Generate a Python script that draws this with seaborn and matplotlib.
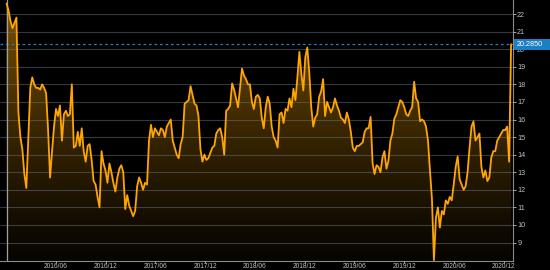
import numpy as np
import pandas as pd
import matplotlib
matplotlib.use("Agg")
import matplotlib.pyplot as plt
import matplotlib.dates as mdates
from matplotlib.patches import Rectangle
import seaborn as sns

# ---- data ----
seg1 = [22.6, 22.2, 21.6, 21.2, 21.5, 21.8, 16.4, 15.0, 14.3, 12.9, 12.1, 15.0, 17.8, 18.4,
        18.0, 17.8, 17.8, 17.7, 18.0, 17.8, 17.5, 15.4, 12.7, 14.2, 15.6, 16.6, 16.2, 16.8,
        14.8, 16.3, 16.5, 16.2, 16.3, 18.0, 14.4, 14.5, 15.3, 14.5, 15.5, 14.2, 13.6]
seg2 = [14.5, 14.6, 13.7, 12.5, 12.3, 11.6, 11.0, 14.2, 13.5, 13.1, 12.4, 13.5, 13.0, 12.4,
        11.9, 12.7, 13.2, 13.4, 13.0, 10.9, 11.7, 11.1, 10.8, 10.5, 10.8, 12.2, 12.7, 12.4,
        12.0, 12.4, 12.3, 14.8, 15.7, 15.0, 15.5, 15.3, 15.1, 15.5, 15.4, 15.0, 15.6, 15.8, 16.0]
seg3 = [14.8, 14.4, 14.0, 13.8, 14.6, 15.0, 16.9, 17.0, 17.1, 17.9, 17.4, 16.9, 16.8, 16.2,
        14.3, 13.6, 14.0, 13.7, 13.8, 14.1, 14.4, 14.5, 15.2, 15.4, 15.5, 15.0, 14.0, 16.5,
        16.6, 16.8, 18.05, 17.7, 17.2, 16.7, 17.8, 18.9, 18.5, 18.3, 18.0, 18.0, 17.0, 16.6, 17.3]
seg4 = [17.4, 17.2, 16.1, 15.5, 16.7, 17.3, 16.9, 15.6, 15.0, 14.8, 14.4, 16.3, 16.4, 15.8,
        16.6, 16.5, 17.2, 16.7, 17.75, 17.1, 18.4, 19.85, 18.6, 17.65, 19.55, 20.1, 18.7, 16.7,
        15.6, 16.1, 16.3, 17.3, 17.6, 18.3, 16.2, 17.0, 16.7, 16.4, 16.7, 17.2, 16.8, 16.5, 16.1]
seg5 = [16.0, 15.8, 16.4, 16.0, 15.3, 14.4, 14.2, 14.5, 14.5, 14.6, 14.7, 15.3, 15.5, 15.5,
        16.15, 13.5, 12.9, 13.4, 13.3, 13.0, 13.85, 14.2, 13.2, 13.65, 14.8, 15.2, 16.05, 16.3,
        16.7, 17.1, 17.0, 16.7, 16.3, 16.2, 16.5, 16.7, 18.15, 17.2, 17.0, 15.9, 16.0, 15.9, 15.6]
seg6 = [14.8, 13.1, 11.5, 8.0, 10.4, 11.0, 9.85, 10.8, 10.6, 11.4, 11.2, 11.6, 11.4, 12.3,
        13.3, 13.9, 12.6, 12.3, 12.0, 12.2, 13.0, 14.4, 15.6, 15.9, 14.8, 15.0, 15.2, 13.3,
        12.7, 13.1, 12.5, 12.7, 13.85, 14.2, 14.2, 14.8, 15.0, 15.2, 15.4, 15.4, 15.6, 13.6, 20.285]
values = seg1 + seg2 + seg3 + seg4 + seg5 + seg6
start_date = "2015-12-03"
end_date = "2020-12-27"
last_value = 20.285
last_label = "20.2850"
y_ticks = list(range(9, 23))
x_ticks = pd.date_range("2016-06-01", "2020-12-01", freq="6MS")

dates = pd.date_range(start_date, end_date, periods=len(values))
df = pd.DataFrame({"date": dates, "value": values})

# ---- style ----
sns.set_style("dark")
plt.rcParams["font.family"] = ["Liberation Sans", "DejaVu Sans"]
BG = "#000000"
ORANGE = "#ffa500"
GREY = "#bfbfbf"

fig = plt.figure(figsize=(5.5, 2.7), dpi=100, facecolor=BG)
W, H = 550, 270
ax = fig.add_axes([0, 1 - 261 / H, 513 / W, 261 / H])
ax.set_facecolor(BG)

xmin = pd.Timestamp("2015-11-09")
xmax = pd.Timestamp("2021-01-03")
ymin, ymax = 7.95, 22.80

# gradient fill under the line
fill = ax.fill_between(df["date"], df["value"], ymin, color="none", zorder=1)
grad = np.linspace(0, 1, 256).reshape(-1, 1)
top = np.array([0.48, 0.32, 0.0])
bot = np.array([0.03, 0.02, 0.0])
rgb = bot + (top - bot) * grad[..., None] ** 1.2
rgb = rgb.reshape(256, 1, 3)
im = ax.imshow(rgb, extent=[mdates.date2num(xmin), mdates.date2num(xmax), ymin, ymax],
               aspect="auto", origin="lower", zorder=1)
path = fill.get_paths()[0]
im.set_clip_path(path, transform=ax.transData)

sns.lineplot(data=df, x="date", y="value", ax=ax, color=ORANGE, linewidth=1.3, zorder=3)

ax.axhline(last_value, color="#1f7fc0", lw=0.9, ls=(0, (2.2, 2.2)), zorder=2.6)
ax.axvline(dates[0], color="#a0a0a0", lw=0.9, zorder=2.7)

ax.set_xlim(xmin, xmax)
ax.set_ylim(ymin, ymax)
ax.set_xlabel("")
ax.set_ylabel("")

ax.set_yticks(y_ticks)
ax.yaxis.tick_right()
ax.set_xticks(x_ticks)
ax.xaxis.set_major_formatter(mdates.DateFormatter("%Y/%m"))
ax.set_axisbelow(False)
ax.grid(False)
ax.yaxis.grid(True, color="#6a7080", alpha=0.5, lw=0.8)

ax.tick_params(axis="y", colors=GREY, labelsize=5.2, length=2, width=0.6, pad=1,
               labelcolor=GREY, right=True, left=False)
ax.tick_params(axis="x", colors=GREY, labelsize=4.8, length=1.5, width=0.6, pad=0.3,
               labelcolor=GREY, bottom=True)

for s in ["top", "left"]:
    ax.spines[s].set_visible(False)
for s in ["right", "bottom"]:
    ax.spines[s].set_visible(True)
    ax.spines[s].set_color("#8a8a8a")
    ax.spines[s].set_linewidth(0.8)

# last value tag
fig.patches.append(Rectangle((514 / W, 1 - 50 / H), 40 / W, 11 / H, transform=fig.transFigure,
                             facecolor="#1b7fc4", edgecolor="none", zorder=5))
fig.text(517 / W, 1 - 44.5 / H, last_label, color="white", fontsize=5.2,
         va="center", ha="left", zorder=6)

fig.savefig("out.png", dpi=100, facecolor=BG)
